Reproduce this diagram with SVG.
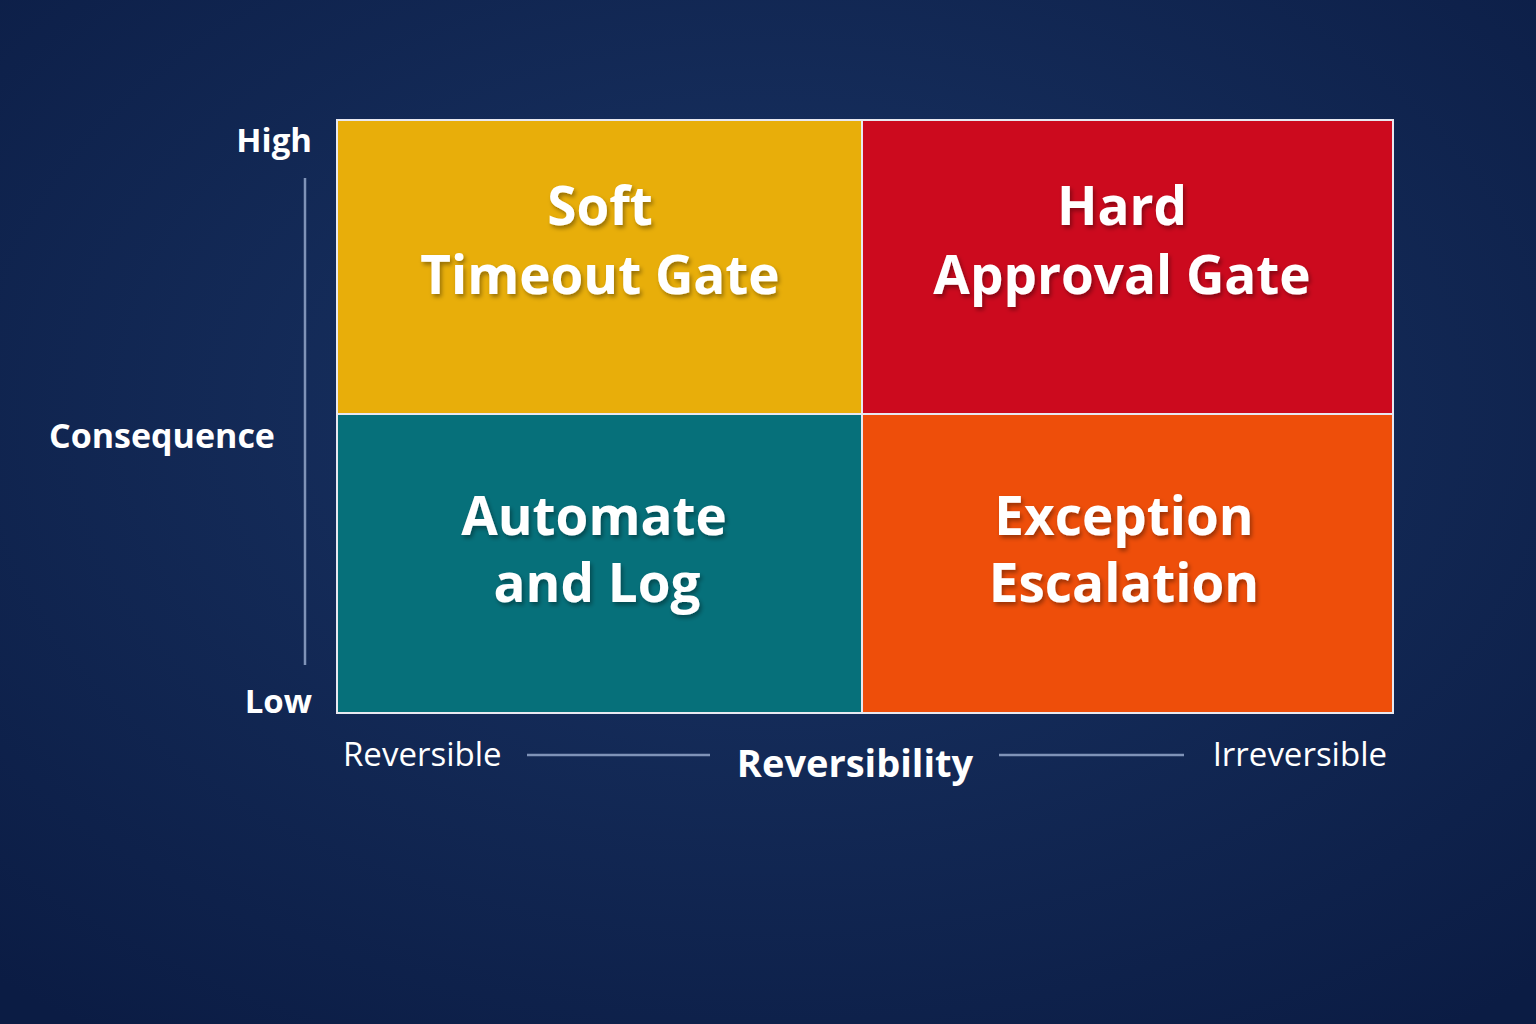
<svg xmlns="http://www.w3.org/2000/svg" width="1536" height="1024" viewBox="0 0 1536 1024">
<defs>
<radialGradient id="bg" cx="0.5" cy="0.4" r="0.75">
<stop offset="0" stop-color="#1a3566"/><stop offset="1" stop-color="#0b1c44"/>
</radialGradient>
<filter id="sh" x="-10%" y="-10%" width="120%" height="130%"><feDropShadow dx="2" dy="3" stdDeviation="2" flood-color="#000" flood-opacity="0.35"/></filter>
</defs>
<style>
.q{font-family:"Open Sans","Noto Sans",sans-serif;font-weight:700;font-size:53px;fill:#fff;text-anchor:middle;filter:url(#sh)}
.ax{font-family:"Open Sans","Noto Sans",sans-serif;font-size:33px;fill:#fff}
.axb{font-family:"Open Sans","Noto Sans",sans-serif;font-weight:700;fill:#fff}
.cell{stroke:#e8e8f0;stroke-width:2}
.ln{stroke:#7f93b8;stroke-width:2.5}
</style>
<rect width="1536" height="1024" fill="url(#bg)"/>
<g id="soft"><rect class="cell" x="337" y="120" width="525" height="294" fill="#E8AE0A"/><text class="q" x="600" y="225">Soft</text><text class="q" x="600" y="294">Timeout Gate</text></g>
<g id="hard"><rect class="cell" x="862" y="120" width="531" height="294" fill="#CC0A1E"/><text class="q" x="1122" y="225">Hard</text><text class="q" x="1122" y="294">Approval Gate</text></g>
<g id="automate"><rect class="cell" x="337" y="414" width="525" height="299" fill="#06707A"/><text class="q" x="594" y="535">Automate</text><text class="q" x="597" y="602">and Log</text></g>
<g id="exception"><rect class="cell" x="862" y="414" width="531" height="299" fill="#EE4E0A"/><text class="q" x="1124" y="535">Exception</text><text class="q" x="1124" y="602">Escalation</text></g>
<g id="axes">
<line class="ln" x1="305" y1="178" x2="305" y2="665"/>
<text class="ax" x="312" y="152" text-anchor="end" font-weight="700">High</text>
<text class="ax" x="312" y="713" text-anchor="end" font-weight="700">Low</text>
<text class="axb" x="162" y="448" font-size="34" text-anchor="middle">Consequence</text>
<text class="ax" x="343" y="766">Reversible</text>
<line class="ln" x1="527" y1="755" x2="710" y2="755"/>
<text class="axb" x="855" y="777" font-size="38" text-anchor="middle">Reversibility</text>
<line class="ln" x1="999" y1="755" x2="1184" y2="755"/>
<text class="ax" x="1387" y="766" text-anchor="end">Irreversible</text>
</g>
</svg>
